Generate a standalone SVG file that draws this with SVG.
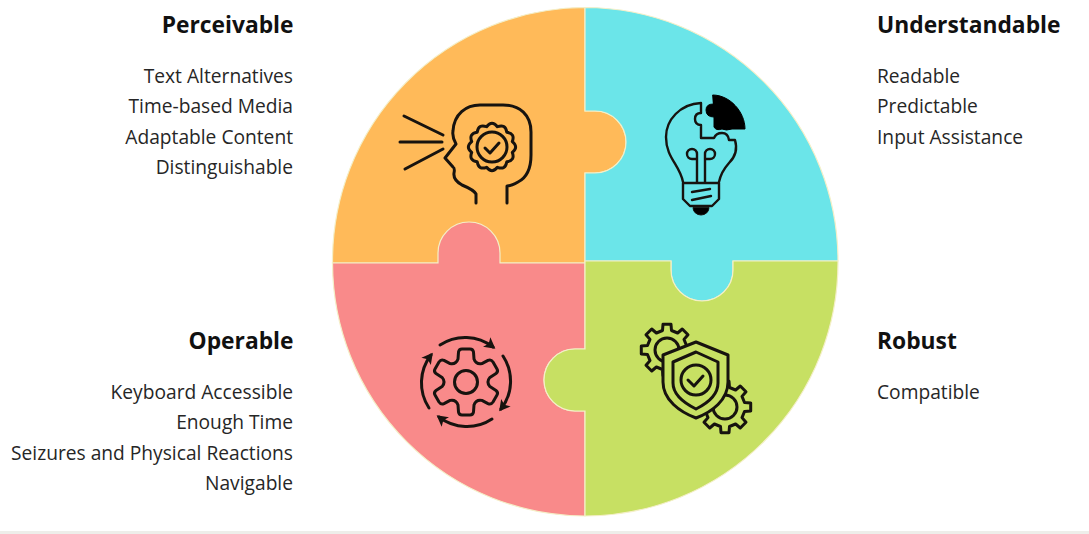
<svg xmlns="http://www.w3.org/2000/svg" width="1089" height="534" viewBox="0 0 1089 534">
<style>
text{font-family:"Open Sans","Noto Sans",sans-serif;fill:#262626}
.h{font-size:22.8px;font-weight:700;fill:#111}
.t{font-size:19.200px}
.e{text-anchor:end}
.piece{stroke:#f4efc8;stroke-width:1.2}
.i{fill:none;stroke:#17130f;stroke-width:3;stroke-linecap:round;stroke-linejoin:round}
</style>
<defs>
<path id="cog" d="M-4.500-19.500L-4-25.700L4-25.700L4.500-19.500L10.600-17L15.300-21L21-15.300L17-10.600L19.500-4.500L25.700-4L25.700,4L19.500,4.500L17,10.600L21,15.300L15.300,21L10.600,17L4.500,19.500L4,25.700L-4,25.700L-4.500,19.500L-10.600,17L-15.300,21L-21,15.300L-17,10.600L-19.500,4.500L-25.700,4L-25.700-4L-19.500-4.500L-17-10.600L-21-15.300L-15.300-21L-10.600-17Z"/>
<marker id="ah" markerUnits="userSpaceOnUse" markerWidth="16" markerHeight="16" refX="8" refY="6" orient="auto"><path d="M0,0L11,6L0,12L2.500,6Z" fill="#17130f"/></marker>
</defs>
<rect width="1089" height="534" fill="#fff"/>
<rect y="531" width="1089" height="3" fill="#eeeeea"/>
<g id="puzzle">
<path id="orange" class="piece" fill="#ffba59" d="M585,7.500A253.500,253.500 0 0 0 332.500,263H585V173H595A31,31 0 0 0 595,111H585Z"/>
<path id="teal" class="piece" fill="#6be5e9" d="M585,7.500A253.500,253.500 0 0 1 838,261H733V270A31,31 0 0 1 671,270V261H585V173H595A31,31 0 0 0 595,111H585Z"/>
<path id="pink" class="piece" fill="#f98a8a" d="M332.500,263A253.500,253.500 0 0 0 585,516V411H575A31,31 0 0 1 575,349H585V263H500V253A31,31 0 0 0 438,253V263Z"/>
<path id="green" class="piece" fill="#c7e063" d="M838,261A253.500,253.500 0 0 1 585,516V411H575A31,31 0 0 1 575,349H585V261H671V270A31,31 0 0 0 733,270V261Z"/>
</g>
<g id="perceivable">
<text class="h e" x="293.500" y="33">Perceivable</text>
<text class="t e" x="293" y="83">Text Alternatives</text>
<text class="t e" x="293" y="113">Time-based Media</text>
<text class="t e" x="293" y="144">Adaptable Content</text>
<text class="t e" x="293" y="174">Distinguishable</text>
<g id="head-icon" class="i">
<path d="M404,116L443,135M400,142H442M405,169L443,149"/>
<path d="M476,203V194Q474,190 462,185Q453,180 454,173Q455,168 453,167L445,158L456,144Q452,137 453,131C454,114 466,105 480,105H503C520,105 531,115 531,132V155C531,170 526,178 518,182Q511,186 507,186V203"/>
<path transform="translate(492,147)" d="M20.300-5.400Q27,0 20.300,5.400Q23.400,13.500 14.800,14.800Q13.500,23.400 5.400,20.300Q0,27-5.400,20.300Q-13.500,23.400-14.800,14.800Q-23.400,13.500-20.300,5.400Q-27,0-20.300-5.400Q-23.400-13.500-14.800-14.800Q-13.500-23.400-5.400-20.300Q0-27 5.400-20.300Q13.500-23.400 14.800-14.800Q23.400-13.500 20.300-5.400Z"/>
<circle cx="492" cy="147" r="15"/>
<path d="M485,148L490,153L499,143"/>
</g>
</g>
<g id="understandable">
<text class="h" x="877" y="33">Understandable</text>
<text class="t" x="877" y="83">Readable</text>
<text class="t" x="877" y="113">Predictable</text>
<text class="t" x="877" y="144">Input Assistance</text>
<g id="bulb-icon" class="i" style="stroke-width:2.400px">
<path d="M701,103C680,104 666,120 666,137C666,158 680,165 683,182M701,103V113Q695,113 695,119Q695,125 701,125V138H714Q716,133 722,133Q728,133 729,140H735C738,150 735,157 729,163Q721,172 719,182"/>
<path d="M683,183H719V199L712,206H690L683,199Z"/>
<path d="M692,192L710,189M692,200L711,196"/>
<path d="M697,182V154A5,5 0 1 0 692,159H697M705,182V154A5,5 0 1 1 710,159H705"/>
<path d="M693,208A8,7 0 0 0 709,208Z" fill="#000" style="stroke-width:1px"/>
<path d="M713,95C730,95 745,112 745,129H732Q726,131 722,129Q716,131 714,127V117Q706,117 706,110Q706,104 713,104Z" fill="#000" stroke="#000" style="stroke-width:1px"/>
</g>
</g>
<g id="operable">
<text class="h e" x="293.500" y="349">Operable</text>
<text class="t e" x="293" y="399">Keyboard Accessible</text>
<text class="t e" x="293" y="429">Enough Time</text>
<text class="t e" x="293" y="460">Seizures and Physical Reactions</text>
<text class="t e" x="293" y="490">Navigable</text>
<g id="gear-icon" class="i" transform="translate(466,382)">
<path d="M-8-23L-7.500-30Q-7-33-4-33H4Q7-33 7.500-30L8-23Q10-17.300 15.900-18.400L22-21.600Q25-23 27-20L31-13Q32.500-10.500 30-8.500L23.900-4.600Q20,0 23.900,4.600L30,8.500Q32.500,10.500 31,13L27,20Q25,23 22,21.600L15.900,18.400Q10,17.300 8,23L7.500,30Q7,33 4,33H-4Q-7,33-7.500,30L-8,23Q-10,17.300-15.900,18.400L-22,21.600Q-25,23-27,20L-31,13Q-32.500,10.500-30,8.500L-23.900,4.600Q-20,0-23.900-4.600L-30-8.500Q-32.500-10.500-31-13L-27-20Q-25-23-22-21.600L-15.900-18.400Q-10-17.300-8-23Z"/>
<circle r="11.500"/>
<path marker-end="url(#ah)" d="M-26-37A45.500,45.500 0 0 1 27-35"/>
<path marker-end="url(#ah)" d="M37-26A45.500,45.500 0 0 1 35,27"/>
<path marker-end="url(#ah)" d="M26,37A45.500,45.500 0 0 1-27,35"/>
<path marker-end="url(#ah)" d="M-37,26A45.500,45.500 0 0 1-35-27"/>
</g>
</g>
<g id="robust">
<text class="h" x="877" y="349">Robust</text>
<text class="t" x="877" y="399">Compatible</text>
<g id="shield-icon" class="i">
<use href="#cog" transform="translate(667,350)"/>
<circle cx="667" cy="350" r="12"/>
<use href="#cog" transform="translate(725,407)"/>
<circle cx="725" cy="407" r="12"/>
<path d="M696,342L728,355V382C728,400 712,412 696,418C680,412 663,400 663,382V355Z" fill="#c7e063"/>
<path d="M696,352L718,362V383C718,395 706,404 696,409C686,404 673,395 673,383V362Z"/>
<circle cx="696" cy="380" r="15"/>
<path d="M688,380L694,386L703,376"/>
</g>
</g>
</svg>
